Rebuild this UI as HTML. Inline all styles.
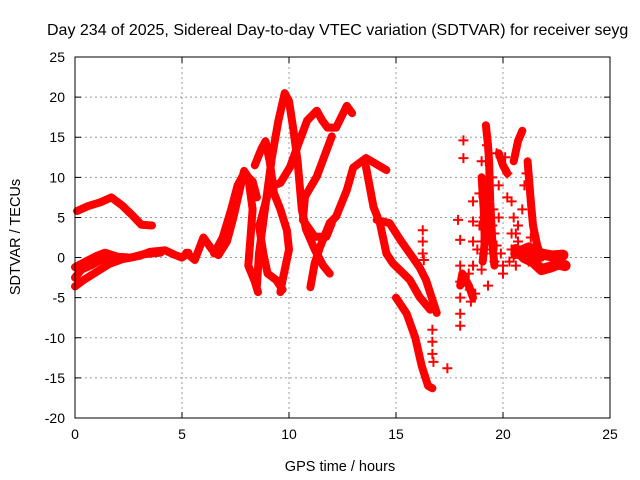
<!DOCTYPE html>
<html><head><meta charset="utf-8"><style>
body{margin:0;background:#fff}
svg{display:block;font-family:"Liberation Sans",sans-serif}
</style></head><body>
<svg id="chart" width="640" height="480" viewBox="0 0 640 480">
<rect width="640" height="480" fill="#fff"/>
<text x="47" y="35" font-size="16" fill="#000">Day 234 of 2025, Sidereal Day-to-day VTEC variation (SDTVAR) for receiver seyg</text>
<g id="grid"></g>
<g id="series"></g>
<rect x="75" y="57" width="535" height="361" fill="none" stroke="#000" stroke-width="1"/>
<g id="axes" font-size="14"></g>
<text x="0" y="0" font-size="14.5" transform="translate(20,237) rotate(-90)" text-anchor="middle">SDTVAR / TECUs</text>
<text x="340" y="471" font-size="14.5" text-anchor="middle">GPS time / hours</text>
</svg>
<script>
const xTicks=[0,5,10,15,20,25];
const yTicks=[-20,-15,-10,-5,0,5,10,15,20,25];
const traceEarlyUpper=[[0.1,5.8],[0.6,6.4],[1.2,6.9],[1.7,7.5],[2.2,6.5],[2.7,5.2],[3.1,4.1],[3.6,4.0]];
const traceEarlyLow=[[0,-3.6],[0.4,-2.8],[1.0,-1.8],[1.6,-0.8],[2.2,-0.2],[3.0,0.2],[3.5,0.7],[4.2,0.9],[4.6,0.4],[5.0,0.0],[5.3,0.6]];
const traceEarlyMid=[[0,-1.2],[0.5,-0.5],[1.0,0.2],[1.4,0.6],[2.0,0.1],[2.6,0.0],[3.2,0.4],[4.0,0.6]];
const traceEarlyThird=[[0,-2.5],[0.3,-1.5],[0.8,-0.9],[1.2,-0.3],[1.8,0.2]];
const traceMorning=[[5.2,0.6],[5.6,-0.3],[6.0,2.5],[6.4,1.0],[6.7,0.3],[7.1,2.0],[7.4,5.0],[7.7,8.5],[7.9,10.8],[8.1,10.0],[8.3,6.0],[8.2,2.5],[8.1,-1],[8.4,-3],[8.55,-4.3]];
const traceMorning2=[[6.5,0.5],[6.9,2.5],[7.3,6.0],[7.6,9.0],[7.9,10.5],[8.3,9.5],[8.5,7.5]];
const tracePeak=[[8.5,-3.5],[8.6,0.5],[8.8,4.5],[9.0,8.5],[9.2,12.5],[9.5,17],[9.8,20.5],[10.0,19.5],[10.2,16],[10.4,12],[10.5,9],[10.6,6],[10.8,3.5],[11.2,1.0],[11.6,-1.0],[11.9,-2.0]];
const traceHump=[[8.4,11.5],[8.7,13.5],[8.9,14.5],[9.1,12.0],[9.3,8.0],[9.6,6.0],[9.9,3.4],[10.0,1.0],[9.7,-2.8],[9.6,-4.3]];
const traceHump2=[[8.6,4.0],[8.8,0.5],[9.0,-2.0],[9.4,-2.8],[9.7,-4.0]];
const traceRise=[[8.65,4.3],[9.1,8.8],[9.6,9.3],[10.05,11.3],[10.5,14.6],[10.85,17.1],[11.3,18.3],[11.55,17.1],[11.8,16.2],[12.2,16.2],[12.7,18.9],[12.95,18.0]];
const traceDiag=[[12.0,15.1],[11.3,10.1],[10.75,7.6],[10.65,4.7],[11.2,2.6],[11.75,2.6],[12.0,4.3]];
const traceLateRise=[[11.0,-3.7],[11.2,-0.7],[11.45,1.3],[11.9,4.3],[12.2,5.1],[12.7,8.4],[13.0,11.2],[13.6,12.4],[14.55,10.9]];
const traceDescent=[[13.6,11.3],[13.95,6.3],[14.25,4.3],[14.55,0.5],[14.85,-0.7],[15.35,-2.0],[15.65,-2.8],[16.1,-4.9],[16.6,-6.5]];
const traceDescent2=[[14.1,4.7],[14.7,4.3],[15.2,2.2],[15.65,0.5],[16.1,-1.2],[16.4,-2.8],[16.9,-6.9]];
const traceDrop=[[15.0,-5.0],[15.5,-7.0],[15.9,-10],[16.2,-13.5],[16.5,-16.0],[16.7,-16.3]];
const traceLateBand=[[20.6,1.0],[21.0,0.0],[21.4,-0.5],[21.8,-1.5],[22.2,-1.2],[22.6,-0.8],[22.9,-1.0]];
const traceLateBand2=[[20.6,0.5],[21.2,1.2],[21.7,0.5],[22.3,0.2],[22.8,0.3]];
const traceSpike=[[19.2,16.5],[19.3,14],[19.35,12],[19.4,7],[19.5,2],[19.6,-1]];
const traceSpike1b=[[19.0,10],[19.1,6],[19.15,2],[19.05,-0.5]];
const traceSpike2=[[20.5,12],[20.7,14.5],[20.9,15.8]];
const traceSpike3=[[21.15,12],[21.3,7],[21.4,4],[21.6,1.5],[21.8,0]];
const traceSpike4=[[19.8,13],[20.0,11.5],[20.2,10.5]];
const traceSpike5=[[18.0,-3.5],[18.1,-2.0],[18.4,-3.5],[18.6,-5.0]];
const markerX=[16.25,16.25,16.25,16.3,16.7,16.7,16.7,16.75,17.4,18.0,18.0,18.0,18.0,18.0,18.0,18.15,18.15,18.4,18.45,18.5,18.6,18.6,18.6,18.6,19.0,19.0,19.1,19.1,19.1,19.2,19.25,19.5,19.55,19.6,19.7,19.8,19.8,19.9,20.0,20.1,20.2,20.2,20.4,20.4,20.5,20.5,20.6,20.7,20.7,20.0,19.3,19.4,17.9,18.2,18.9,18.9,19.0,19.3,19.5,19.6,19.7,20.3,20.4,20.6,20.9,21.0,21.1,21.2,21.3,21.5,18.8,18.7];
const markerY=[3.4,2.0,0.5,-0.3,-9.0,-10.5,-12.0,-13.0,-13.8,2.2,-1.0,-3.0,-5.0,-7.0,-8.5,14.6,12.4,-2.0,-4.0,-5.5,7.0,4.5,2.0,-1.0,2.0,-1.5,9.0,5.0,0.5,12.0,14.0,10.0,6.0,3.0,13.0,9.0,5.0,0.5,-1.0,12.5,10.5,7.5,7.0,3.0,5.0,0.0,-1.0,2.0,4.0,-2.0,-3.5,1.0,4.7,-3.0,4.0,8.0,12.0,8.0,4.0,-0.5,1.5,-0.5,1.0,3.0,6.0,9.0,10.5,-0.5,2.5,0.5,1.0,-4.5];
const x0=75,x1=610,y0=418,y1=57;
const sx=v=>x0+(v-0)/(25-0)*(x1-x0);
const sy=v=>y0-(v-(-20))/(25-(-20))*(y0-y1);
const NS="http://www.w3.org/2000/svg";
const grid=document.getElementById('grid'),axes=document.getElementById('axes'),series=document.getElementById('series');
function mk(tag,attrs,parent){const e=document.createElementNS(NS,tag);for(const k in attrs)e.setAttribute(k,attrs[k]);parent.appendChild(e);return e;}
xTicks.forEach(t=>{const x=sx(t);
 if(t>0&&t<25){const g=mk('line',{x1:x,x2:x,y1:y1,y2:y0,stroke:'#999','stroke-dasharray':'2,3'},grid);
 
 }
 const tk=mk('path',{d:`M${x},${y0}v-6M${x},${y1}v6`,stroke:'#000'},axes);
 
 
 const l=mk('text',{x:x,y:y0+21,'text-anchor':'middle'},axes);l.textContent=t;
 
 });
yTicks.forEach(t=>{const y=sy(t);
 if(t>-20&&t<25){const g=mk('line',{x1:x0,x2:x1,y1:y,y2:y,stroke:'#999','stroke-dasharray':'2,3'},grid);
 
 }
 const tk=mk('path',{d:`M${x0},${y}h6M${x1},${y}h-6`,stroke:'#000'},axes);
 
 
 const l=mk('text',{x:x0-10,y:y+5,'text-anchor':'end'},axes);l.textContent=t;
 
 });
const traces=[traceEarlyUpper,traceEarlyLow,traceEarlyMid,traceEarlyThird,traceMorning,traceMorning2,tracePeak,traceHump,traceHump2,traceRise,traceDiag,traceLateRise,traceDescent,traceDescent2,traceDrop,traceSpike,traceSpike1b,traceSpike2,traceSpike3,traceSpike4,traceSpike5];
const bands=[traceLateBand,traceLateBand2];
function drawTrace(tr,w){const d=tr.map((p,i)=>(i?'L':'M')+sx(p[0]).toFixed(1)+','+sy(p[1]).toFixed(1)).join('');
 const p=mk('path',{d:d,fill:'none',stroke:'#f00','stroke-width':w,'stroke-linejoin':'round','stroke-linecap':'round'},series);
 
 }
traces.forEach(tr=>drawTrace(tr,8));
bands.forEach(tr=>drawTrace(tr,11));
markerX.forEach((v,i)=>{const x=sx(v),y=sy(markerY[i]);
 const m=mk('path',{d:`M${x-5},${y}h10M${x},${y-5}v10`,stroke:'#f00','stroke-width':2},series);
 
 });
</script>
</body></html>
